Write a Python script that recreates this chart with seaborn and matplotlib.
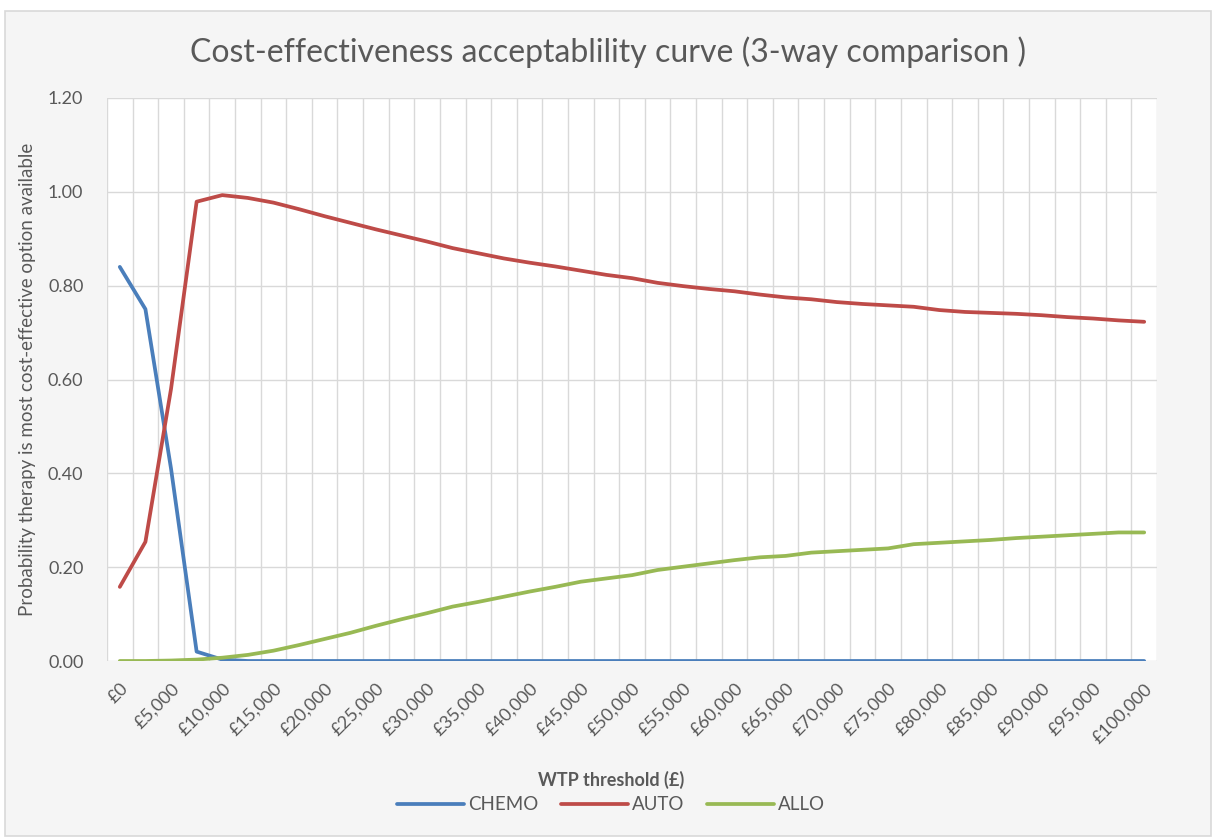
import numpy as np
import pandas as pd
import matplotlib
matplotlib.use("Agg")
import matplotlib.pyplot as plt
import seaborn as sns
from matplotlib.patches import Rectangle
from matplotlib.ticker import FixedLocator, FuncFormatter

# WTP thresholds, every 2,500
wtp = [i * 2500 for i in range(41)]

chemo = [0.84, 0.75, 0.41, 0.02, 0.003] + [0.0] * 36

auto = [0.158, 0.254, 0.58, 0.979, 0.993, 0.987, 0.977, 0.963, 0.948, 0.934,
        0.920, 0.907, 0.894, 0.880, 0.869, 0.858, 0.849, 0.841, 0.832, 0.823,
        0.816, 0.806, 0.799, 0.793, 0.788, 0.781, 0.775, 0.771, 0.765, 0.761,
        0.758, 0.755, 0.748, 0.744, 0.742, 0.740, 0.737, 0.733, 0.730, 0.726,
        0.723]

allo = [0.0, 0.0, 0.001, 0.003, 0.007, 0.013, 0.022, 0.034, 0.047, 0.060,
        0.075, 0.089, 0.102, 0.116, 0.126, 0.137, 0.148, 0.158, 0.169, 0.176,
        0.183, 0.194, 0.201, 0.208, 0.215, 0.221, 0.224, 0.231, 0.234, 0.237,
        0.240, 0.249, 0.252, 0.255, 0.258, 0.262, 0.265, 0.268, 0.271, 0.274,
        0.274]

therapies = ["CHEMO", "AUTO", "ALLO"]
colors = ["#4A7EBB", "#BE4B48", "#98B954"]
tick_labels = ["£{:,}".format(w) for w in wtp]

df = pd.DataFrame({
    "idx": list(range(len(wtp))) * 3,
    "prob": chemo + auto + allo,
    "therapy": [t for t in therapies for _ in wtp],
})

sns.set_style("white")
plt.rcParams["font.family"] = ["Lato", "DejaVu Sans"]
grey = "#595959"

fig = plt.figure(figsize=(12.16, 8.39), dpi=100)
fig.patch.set_facecolor("white")
fig.patches.append(Rectangle((5 / 1216, 3 / 839), 1206 / 1216, 825 / 839,
                             transform=fig.transFigure, facecolor="#f5f5f5",
                             edgecolor="#d9d9d9", linewidth=1.2, zorder=-10))

ax = fig.add_axes([107 / 1216, 1 - 661 / 839, 1050 / 1216, 563 / 839])
ax.set_facecolor("white")

sns.lineplot(data=df, x="idx", y="prob", hue="therapy", hue_order=therapies,
             palette=colors, linewidth=2.7, ax=ax, zorder=3)

ax.set_xlim(-0.5, len(wtp) - 0.5)
ax.set_ylim(0, 1.2)
ax.set_yticks(np.arange(0, 1.21, 0.2))
ax.yaxis.set_major_formatter(FuncFormatter(lambda v, p: f"{v:.2f}"))

ax.xaxis.set_major_locator(FixedLocator(list(range(0, len(wtp), 2))))
ax.set_xticklabels(tick_labels[::2], rotation=45, ha="right",
                   rotation_mode="anchor")
ax.xaxis.set_minor_locator(FixedLocator(np.arange(-0.5, len(wtp), 1)))
ax.grid(which="minor", axis="x", color="#d9d9d9", linewidth=1)
ax.grid(which="major", axis="y", color="#d9d9d9", linewidth=1)
ax.tick_params(axis="both", which="both", length=0, colors=grey, labelsize=13)
ax.tick_params(axis="x", pad=14)
ax.tick_params(axis="y", pad=17)
for s in ax.spines.values():
    s.set_visible(False)

ax.set_xlabel("WTP threshold (£)", fontsize=13, fontweight="bold", color=grey)
ax.xaxis.set_label_coords(0.48, -(771 - 661) / 563)
ax.set_ylabel("Probability therapy is most cost-effective option available",
              fontsize=13.5, color=grey)
ax.yaxis.set_label_coords(-(107 - 36) / 1050, 0.5)
fig.text(608 / 1216, 1 - 52 / 839,
         "Cost-effectiveness acceptablility curve (3-way comparison )",
         fontsize=23, color=grey, ha="center", va="center")

handles, labels = ax.get_legend_handles_labels()
leg = ax.legend(handles, labels, loc="center",
                bbox_to_anchor=(0.48, -(805 - 661) / 563), ncol=3,
                frameon=False, fontsize=13.5, handlelength=3.6,
                handletextpad=0.2, columnspacing=1.2)
for t in leg.get_texts():
    t.set_color(grey)

fig.savefig("out.png", dpi=100, facecolor=fig.get_facecolor())
